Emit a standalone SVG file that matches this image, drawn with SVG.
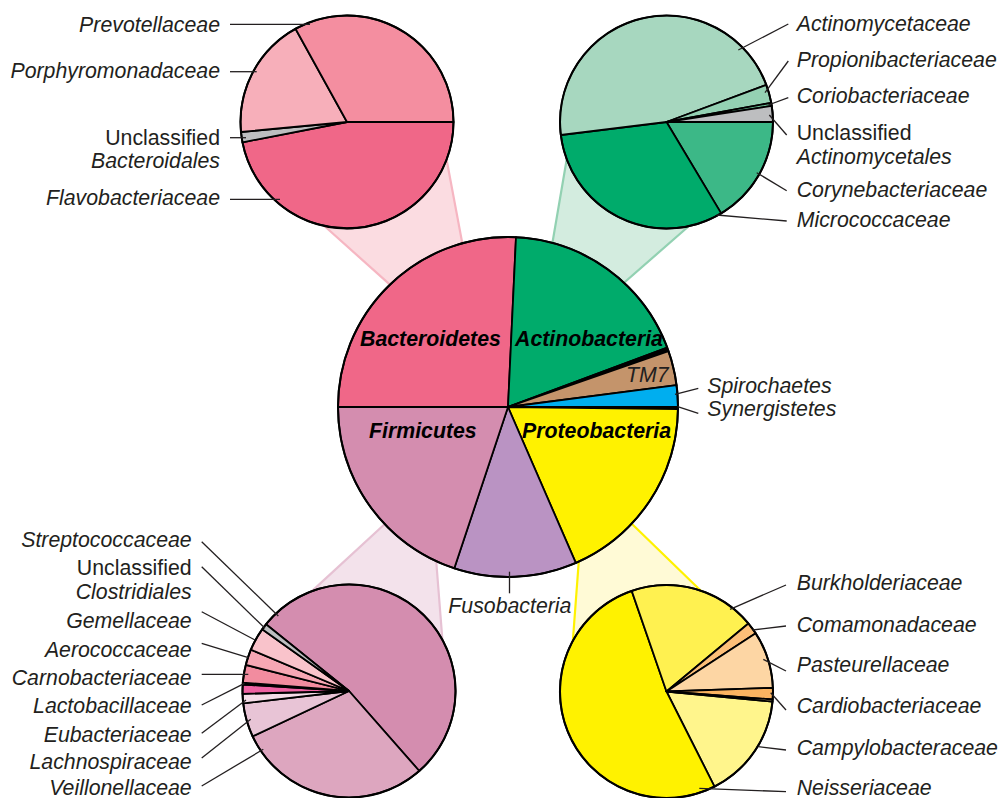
<svg xmlns="http://www.w3.org/2000/svg" width="1000" height="798" viewBox="0 0 1000 798">
<style>
.s{stroke:#000;stroke-width:1.8;stroke-linejoin:round}
.o{fill:none;stroke:#000;stroke-width:2}
.t{font-family:"Liberation Sans",Arial,Helvetica,sans-serif;font-size:21.3px;font-style:italic;fill:#231f20}
.n{font-style:normal}
.b{font-weight:bold;fill:#000}
.e{text-anchor:end}
.l{stroke:#231f20;stroke-width:1.3;fill:none}
</style>
<rect width="1000" height="798" fill="#fff"/>
<g id="connectors" stroke-width="2.2" stroke-linejoin="round">
  <polygon points="315.5,218 443.9,145.3 466,263 399.7,293.4" fill="#fbdce1" stroke="#f6b6c2"/>
  <polygon points="567.8,153 695.8,220 610,295 549.5,260" fill="#d3ecdf" stroke="#92d1b2"/>
  <polygon points="305.7,596.9 400,510 433,520 443.2,650" fill="#f3e2eb" stroke="#e6c1d3"/>
  <polygon points="580,545 618.6,511 704.2,594 572.4,647" fill="#fffad6" stroke="#fff200"/>
</g>
<g id="phylum-pie">
  <path class="s" fill="#f06788" d="M508,407 L338,407 A170,170 0 0 1 516,237.2 Z"/>
  <path class="s" fill="#00ab6b" d="M508,407 L516,237.2 A170,170 0 0 1 667.2,347.5 Z"/>
  <path class="s" fill="#000" d="M508,407 L667.2,347.5 A170,170 0 0 1 668.5,351.1 Z"/>
  <path class="s" fill="#c4946b" d="M508,407 L668.5,351.1 A170,170 0 0 1 676.6,385.1 Z"/>
  <path class="s" fill="#00aeef" d="M508,407 L676.6,385.1 A170,170 0 0 1 678,407 Z"/>
  <path class="s" fill="#000" d="M508,407 L678,407 A170,170 0 0 1 678,409 Z"/>
  <path class="s" fill="#fff200" d="M508,407 L678,409 A170,170 0 0 1 575.8,562.9 Z"/>
  <path class="s" fill="#ba93c3" stroke-width="2.6" d="M508,407 L575.8,562.9 A170,170 0 0 1 454.3,568.3 Z"/>
  <path class="s" fill="#d48daf" d="M508,407 L454.3,568.3 A170,170 0 0 1 338,407 Z"/>
  <circle class="o" cx="508" cy="407" r="170"/>
  <text class="t b" x="360" y="346">Bacteroidetes</text>
  <text class="t b" x="515" y="346">Actinobacteria</text>
  <text class="t" x="626" y="382">TM7</text>
  <text class="t b" x="369" y="438">Firmicutes</text>
  <text class="t b" x="522" y="438">Proteobacteria</text>
</g>
<g id="bacteroidetes-pie">
  <path class="s" fill="#f06788" d="M347,122 L453.5,122 A106.5,106.5 0 0 1 242.5,142.3 Z"/>
  <path class="s" fill="#bdbec0" d="M347,122 L242.5,142.3 A106.5,106.5 0 0 1 241,132 Z"/>
  <path class="s" fill="#f7afba" d="M347,122 L241,132 A106.5,106.5 0 0 1 295.5,28.8 Z"/>
  <path class="s" fill="#f48ea0" d="M347,122 L295.5,28.8 A106.5,106.5 0 0 1 453.5,122 Z"/>
  <circle class="o" cx="347" cy="122" r="106.5"/>
</g>
<g id="actinobacteria-pie">
  <path class="s" fill="#3cb887" d="M666.5,122 L773,122 A106.5,106.5 0 0 1 721.2,213.4 Z"/>
  <path class="s" fill="#00ab6b" d="M666.5,122 L721.2,213.4 A106.5,106.5 0 0 1 560.8,135 Z"/>
  <path class="s" fill="#a7d7bf" d="M666.5,122 L560.8,135 A106.5,106.5 0 0 1 766.3,84.9 Z"/>
  <path class="s" fill="#94d1b3" d="M666.5,122 L766.3,84.9 A106.5,106.5 0 0 1 771.3,102.8 Z"/>
  <path class="s" fill="#6cc197" d="M666.5,122 L771.3,102.8 A106.5,106.5 0 0 1 771.8,105.9 Z"/>
  <path class="s" fill="#bdbec0" d="M666.5,122 L771.8,105.9 A106.5,106.5 0 0 1 773,122 Z"/>
  <circle class="o" cx="666.5" cy="122" r="106.5"/>
</g>
<g id="firmicutes-pie">
  <path class="s" fill="#d48daf" d="M349,691 L266,624.3 A106.5,106.5 0 1 1 419.3,771 Z"/>
  <path class="s" fill="#dda6bf" d="M349,691 L419.3,771 A106.5,106.5 0 0 1 252.6,736.3 Z"/>
  <path class="s" fill="#e8c4d6" d="M349,691 L252.6,736.3 A106.5,106.5 0 0 1 243.2,703.4 Z"/>
  <path class="s" fill="#f5dce7" d="M349,691 L243.2,703.4 A106.5,106.5 0 0 1 242.5,693.8 Z"/>
  <path class="s" fill="#ef62a2" d="M349,691 L242.5,693.8 A106.5,106.5 0 0 1 242.7,684.5 Z"/>
  <path class="s" fill="#d0157c" d="M349,691 L242.7,684.5 A106.5,106.5 0 0 1 242.8,682.6 Z"/>
  <path class="s" fill="#f28c9f" d="M349,691 L242.8,682.6 A106.5,106.5 0 0 1 245.8,664.9 Z"/>
  <path class="s" fill="#f6a7b4" d="M349,691 L245.8,664.9 A106.5,106.5 0 0 1 250.8,649.7 Z"/>
  <path class="s" fill="#f9c3cb" d="M349,691 L250.8,649.7 A106.5,106.5 0 0 1 262.2,629.3 Z"/>
  <path class="s" fill="#bdbec0" d="M349,691 L262.2,629.3 A106.5,106.5 0 0 1 266,624.3 Z"/>
  <circle class="o" cx="349" cy="691" r="106.5"/>
</g>
<g id="proteobacteria-pie">
  <path class="s" fill="#fff58c" d="M666.5,691.5 L772.5,701.7 A106.5,106.5 0 0 1 714.5,786.6 Z"/>
  <path class="s" fill="#fff200" d="M666.5,691.5 L714.5,786.6 A106.5,106.5 0 1 1 631.7,590.9 Z"/>
  <path class="s" fill="#fff150" d="M666.5,691.5 L631.7,590.9 A106.5,106.5 0 0 1 748.4,623.5 Z"/>
  <path class="s" fill="#fdbf78" d="M666.5,691.5 L748.4,623.5 A106.5,106.5 0 0 1 755.7,633.3 Z"/>
  <path class="s" fill="#fdd6a4" d="M666.5,691.5 L755.7,633.3 A106.5,106.5 0 0 1 772.9,687.8 Z"/>
  <path class="s" fill="#fbb461" d="M666.5,691.5 L772.9,687.8 A106.5,106.5 0 0 1 772.7,699.5 Z"/>
  <path class="s" fill="#fde3a0" d="M666.5,691.5 L772.7,699.5 A106.5,106.5 0 0 1 772.5,701.7 Z"/>
  <circle class="o" cx="666.5" cy="691.5" r="106.5"/>
</g>
<g id="leaders">
  <line class="l" x1="230" y1="24.3" x2="310" y2="24.3"/>
  <line class="l" x1="230" y1="71.7" x2="256.7" y2="71.7"/>
  <line class="l" x1="230" y1="137.7" x2="246" y2="137.7"/>
  <line class="l" x1="230" y1="199.3" x2="280" y2="199.3"/>
  <line class="l" x1="738.3" y1="50" x2="788.3" y2="24"/>
  <line class="l" x1="765" y1="92.7" x2="788.3" y2="61"/>
  <line class="l" x1="768.3" y1="105" x2="788.3" y2="97.7"/>
  <line class="l" x1="769.3" y1="115" x2="786.7" y2="135"/>
  <line class="l" x1="756.7" y1="172.7" x2="786.7" y2="190.7"/>
  <line class="l" x1="716.7" y1="215" x2="786.7" y2="221"/>
  <line class="l" x1="675" y1="394.3" x2="698.3" y2="388.3"/>
  <line class="l" x1="677.7" y1="406.7" x2="698.3" y2="413.3"/>
  <line class="l" x1="509.5" y1="571.7" x2="509.5" y2="593.3"/>
  <line class="l" x1="201.7" y1="541.7" x2="278.3" y2="616"/>
  <line class="l" x1="201.7" y1="566.7" x2="265" y2="628.3"/>
  <line class="l" x1="201.7" y1="611.7" x2="255" y2="640"/>
  <line class="l" x1="201.7" y1="643.3" x2="248.3" y2="657.7"/>
  <line class="l" x1="201.7" y1="674.3" x2="248.3" y2="674.3"/>
  <line class="l" x1="201.7" y1="705" x2="244.5" y2="683.3"/>
  <line class="l" x1="201.7" y1="733.3" x2="246" y2="700"/>
  <line class="l" x1="201.7" y1="758" x2="250.7" y2="719.3"/>
  <line class="l" x1="201.7" y1="786" x2="263.3" y2="749.3"/>
  <line class="l" x1="730" y1="609.3" x2="786" y2="585"/>
  <line class="l" x1="752.7" y1="630" x2="786" y2="626"/>
  <line class="l" x1="763.3" y1="659.3" x2="786" y2="671"/>
  <line class="l" x1="770.7" y1="692.7" x2="786" y2="710"/>
  <line class="l" x1="758.3" y1="746.7" x2="786" y2="750"/>
  <line class="l" x1="699.3" y1="788.3" x2="786" y2="791.7"/>
</g>
<g id="labels-bacteroidetes">
  <text class="t e" x="220" y="31.7">Prevotellaceae</text>
  <text class="t e" x="220" y="78.3">Porphyromonadaceae</text>
  <text class="t e n" x="220" y="145">Unclassified</text>
  <text class="t e" x="220" y="168.3">Bacteroidales</text>
  <text class="t e" x="220" y="205">Flavobacteriaceae</text>
</g>
<g id="labels-actinobacteria">
  <text class="t" x="796.7" y="30.7">Actinomycetaceae</text>
  <text class="t" x="796.7" y="66.7">Propionibacteriaceae</text>
  <text class="t" x="796.7" y="103.3">Coriobacteriaceae</text>
  <text class="t n" x="796.7" y="140">Unclassified</text>
  <text class="t" x="796.7" y="164">Actinomycetales</text>
  <text class="t" x="796.7" y="196.7">Corynebacteriaceae</text>
  <text class="t" x="796.7" y="226.7">Micrococcaceae</text>
</g>
<g id="labels-minor-phyla">
  <text class="t" x="707.3" y="393.3">Spirochaetes</text>
  <text class="t" x="707.3" y="416">Synergistetes</text>
  <text class="t" x="448.3" y="613.3">Fusobacteria</text>
</g>
<g id="labels-firmicutes">
  <text class="t e" x="191.7" y="546.7">Streptococcaceae</text>
  <text class="t e n" x="191.7" y="575">Unclassified</text>
  <text class="t e" x="191.7" y="599.3">Clostridiales</text>
  <text class="t e" x="191.7" y="628.3">Gemellaceae</text>
  <text class="t e" x="191.7" y="656.7">Aerococcaceae</text>
  <text class="t e" x="191.7" y="685">Carnobacteriaceae</text>
  <text class="t e" x="191.7" y="713.3">Lactobacillaceae</text>
  <text class="t e" x="191.7" y="741.7">Eubacteriaceae</text>
  <text class="t e" x="191.7" y="769.3">Lachnospiraceae</text>
  <text class="t e" x="191.7" y="794.5">Veillonellaceae</text>
</g>
<g id="labels-proteobacteria">
  <text class="t" x="796.7" y="590">Burkholderiaceae</text>
  <text class="t" x="796.7" y="631.7">Comamonadaceae</text>
  <text class="t" x="796.7" y="672.3">Pasteurellaceae</text>
  <text class="t" x="796.7" y="713.3">Cardiobacteriaceae</text>
  <text class="t" x="796.7" y="755">Campylobacteraceae</text>
  <text class="t" x="796.7" y="794.5">Neisseriaceae</text>
</g>
</svg>
